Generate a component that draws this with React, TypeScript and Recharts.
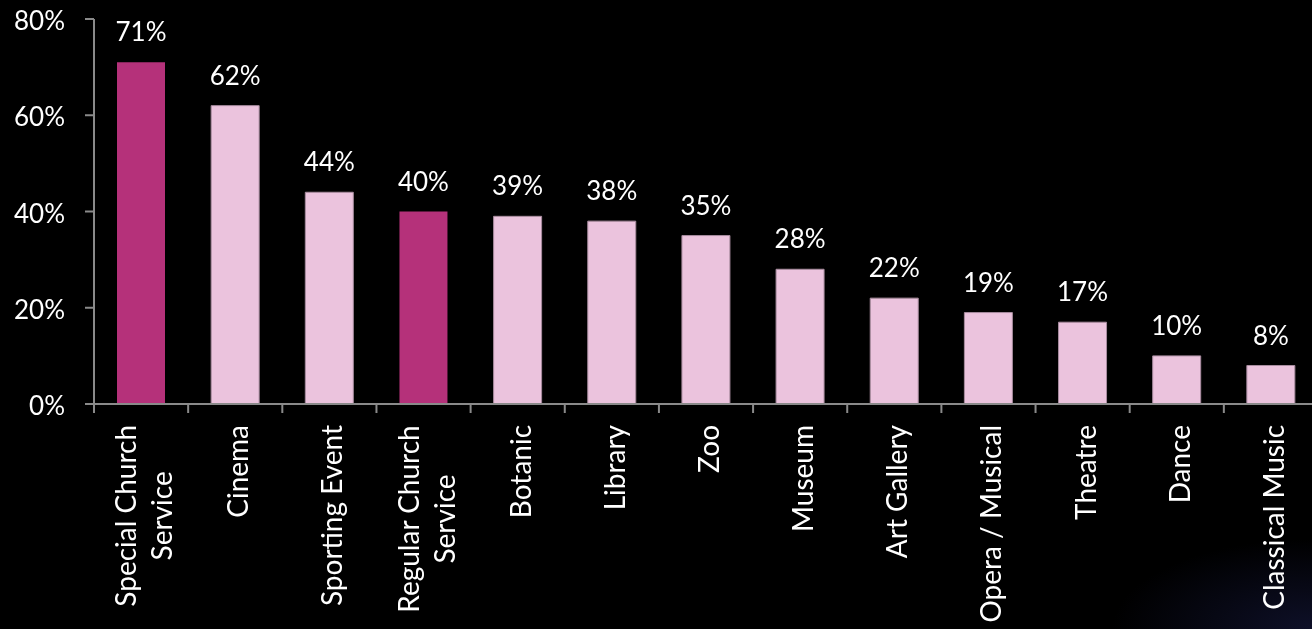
import { BarChart, Bar, XAxis, YAxis, Cell, LabelList } from 'recharts';

const categories = [
  'Special Church\nService',
  'Cinema',
  'Sporting Event',
  'Regular Church\nService',
  'Botanic',
  'Library',
  'Zoo',
  'Museum',
  'Art Gallery',
  'Opera / Musical',
  'Theatre',
  'Dance',
  'Classical Music',
];
const values = [71, 62, 44, 40, 39, 38, 35, 28, 22, 19, 17, 10, 8];
const highlighted = [true, false, false, true, false, false, false, false, false, false, false, false, false];
const yTicks = [0, 20, 40, 60, 80];

const data = categories.map((name, i) => ({ name, value: values[i], hi: highlighted[i] }));

const FONT = 'Lato, "Open Sans", sans-serif';
const CAT_SIZE = 28;
const NUM_SIZE = 26;
const CHART_W = 1320;
const CHART_H = 629;
const MARGIN = { top: 19, right: 2, left: 0, bottom: 0 };
const Y_W = 94;
const BAND = (CHART_W - MARGIN.left - MARGIN.right - Y_W) / categories.length;
const AXIS_COLOR = '#8a8a8a';

let ctx: CanvasRenderingContext2D | null = null;
function textWidth(s: string) {
  if (!ctx) {
    ctx = document.createElement('canvas').getContext('2d');
  }
  if (!ctx) return s.length * CAT_SIZE * 0.5;
  ctx.font = `${CAT_SIZE}px ${FONT}`;
  return ctx.measureText(s).width;
}

// rotated category label, lines centred inside a top-aligned block
function CategoryTick(props: any) {
  const { x, y, payload, index } = props;
  const axisY = y - 8; // default tickSize 6 + tickMargin 2
  const lines: string[] = String(payload.value).split('\n');
  const w = Math.max(...lines.map(textWidth));
  const n = lines.length;
  return (
    <g>
      <line x1={x - BAND / 2} x2={x - BAND / 2} y1={axisY} y2={axisY + 9} stroke={AXIS_COLOR} strokeWidth={2} />
      {index === categories.length - 1 && (
        <line x1={x + BAND / 2} x2={x + BAND / 2} y1={axisY} y2={axisY + 9} stroke={AXIS_COLOR} strokeWidth={2} />
      )}
      <g transform={`translate(${x}, ${axisY + 21}) rotate(-90)`}>
        {lines.map((l, i) => (
          <text
            key={i}
            x={-w / 2}
            y={13 + (i - (n - 1) / 2) * 36}
            textAnchor="middle"
            fill="#ffffff"
            fontSize={CAT_SIZE}
            fontFamily={FONT}
          >
            {l}
          </text>
        ))}
      </g>
    </g>
  );
}

export default function App() {
  return (
    <div
      style={{
        position: 'fixed',
        top: 0,
        left: 0,
        width: 1312,
        height: 629,
        overflow: 'hidden',
        background: 'radial-gradient(ellipse 200px 90px at 100% 100%, #0e1028 0%, #000000 100%)',
      }}
    >
      <BarChart width={CHART_W} height={CHART_H} data={data} margin={MARGIN}>
        <XAxis
          dataKey="name"
          interval={0}
          height={CHART_H - 404}
          axisLine={{ stroke: AXIS_COLOR, strokeWidth: 2 }}
          tickLine={false}
          tick={<CategoryTick />}
        />
        <YAxis
          width={Y_W}
          domain={[0, 80]}
          ticks={yTicks}
          tickFormatter={(v: number) => `${v}%`}
          axisLine={{ stroke: AXIS_COLOR, strokeWidth: 2 }}
          tickLine={{ stroke: AXIS_COLOR, strokeWidth: 2 }}
          tickSize={9}
          tickMargin={20}
          tick={{ fill: '#ffffff', fontSize: NUM_SIZE, fontFamily: FONT, dy: 2 }}
        />
        <Bar dataKey="value" barSize={48} isAnimationActive={false}>
          {data.map((d, i) => (
            <Cell
              key={i}
              fill={d.hi ? '#b5317a' : '#ebc3dd'}
              stroke={d.hi ? 'none' : '#a88c9f'}
              strokeWidth={1}
            />
          ))}
          <LabelList
            dataKey="value"
            position="top"
            offset={21}
            formatter={(v: any) => `${v}%`}
            fill="#ffffff"
            fontSize={NUM_SIZE}
            fontFamily={FONT}
          />
        </Bar>
      </BarChart>
    </div>
  );
}
